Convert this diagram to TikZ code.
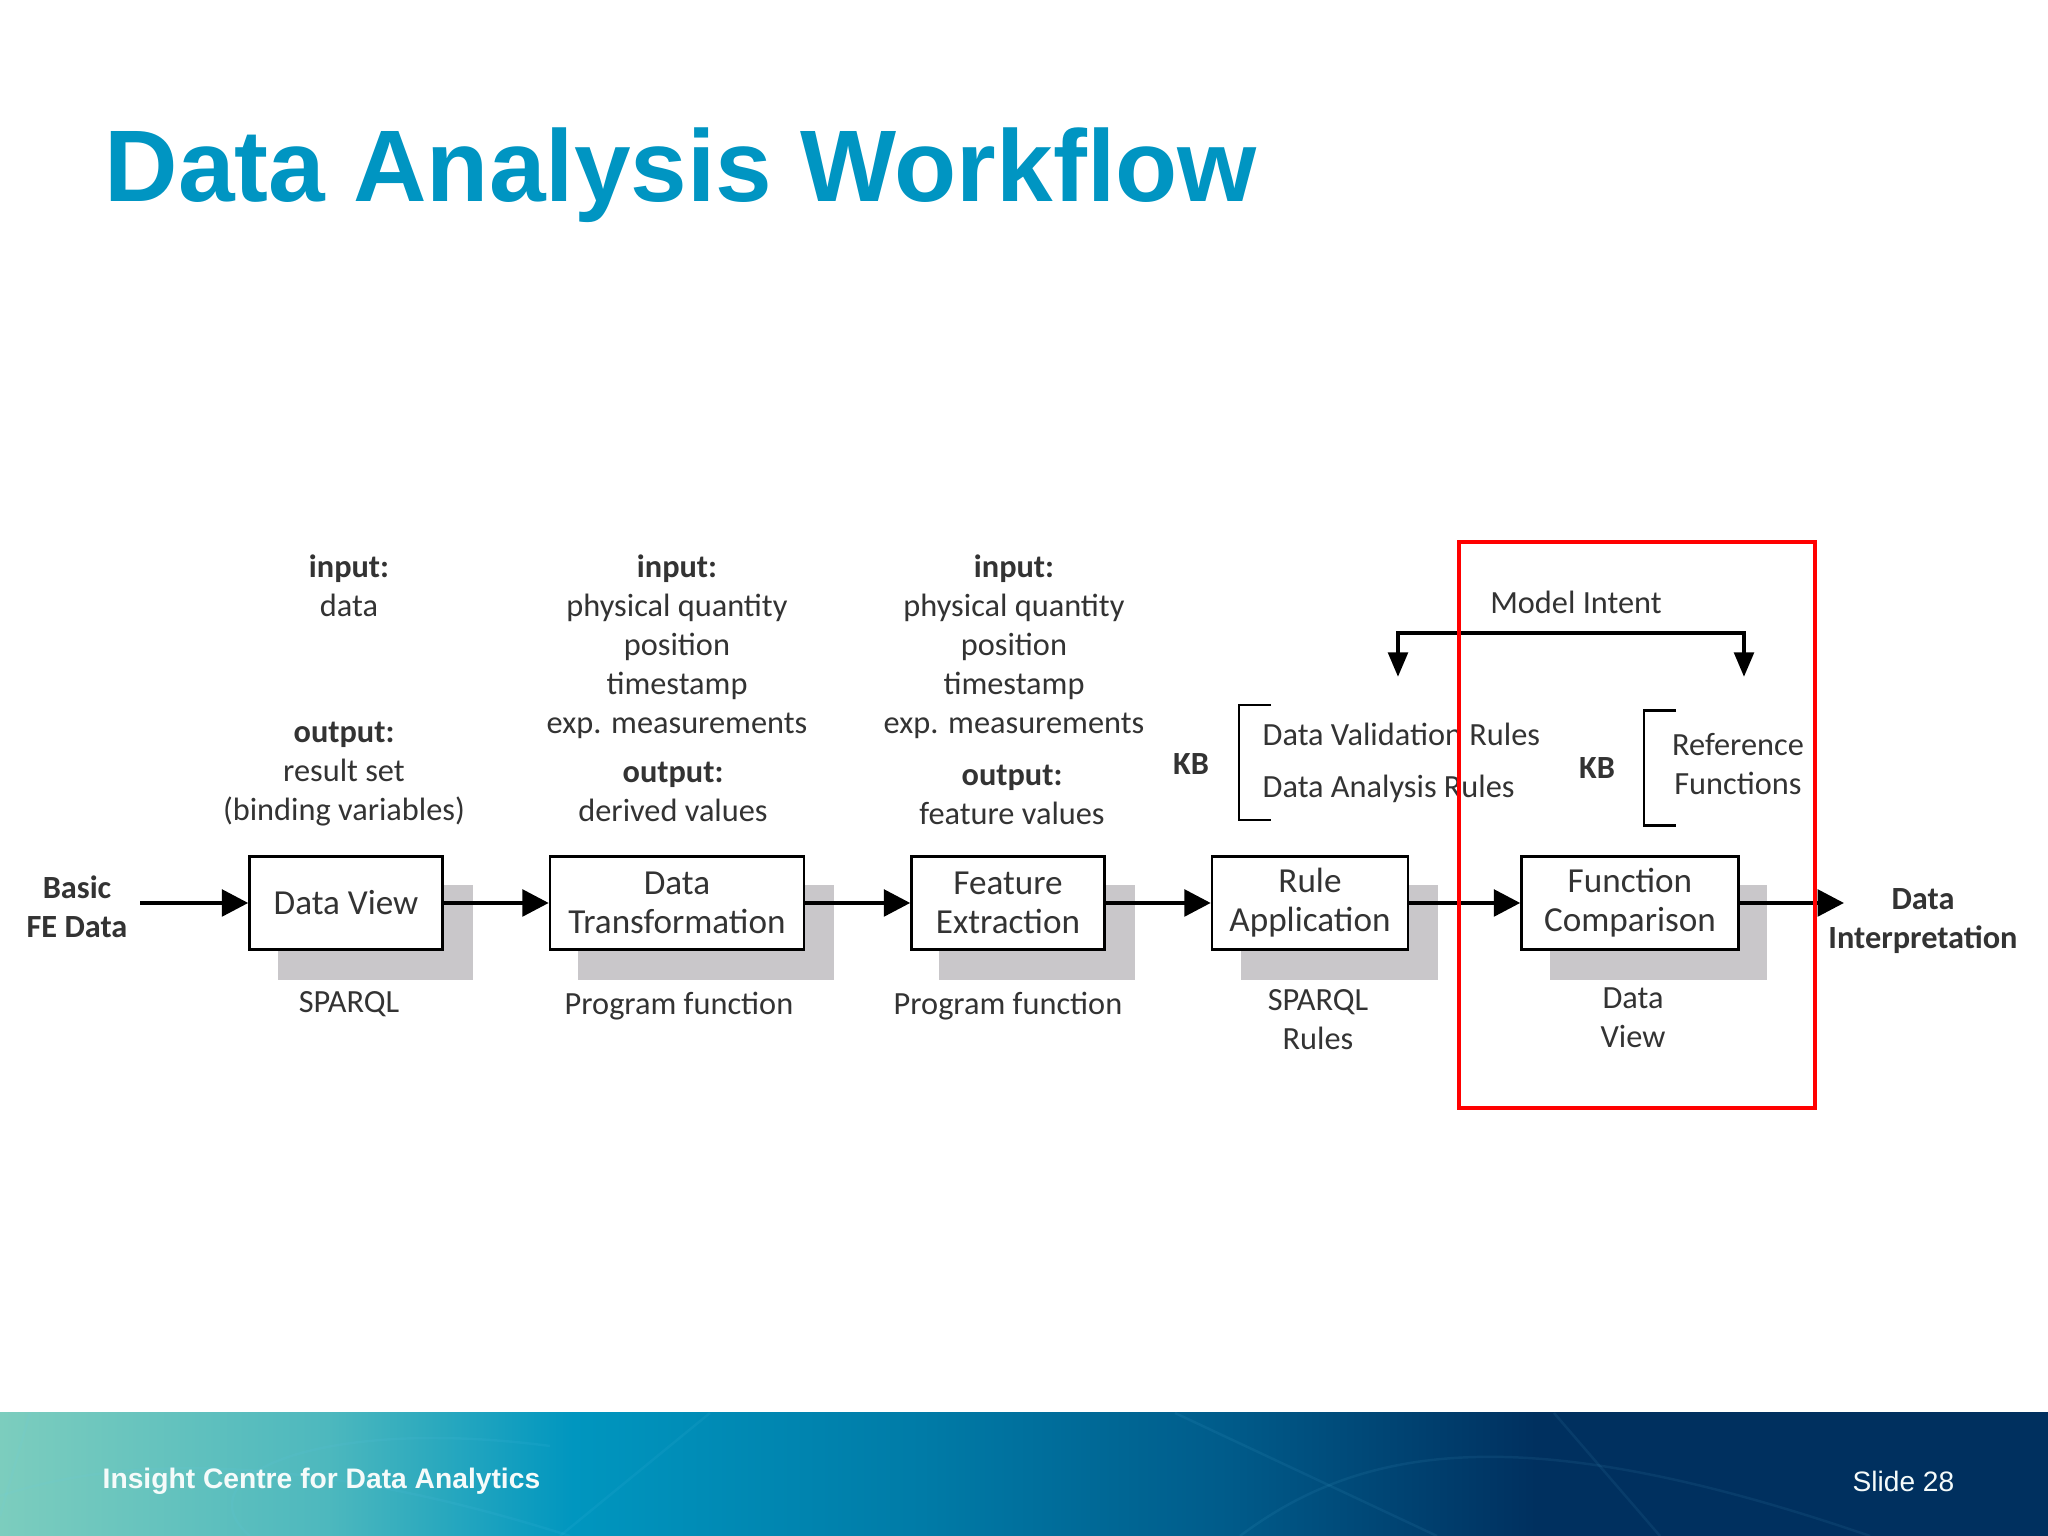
\documentclass[tikz,border=0pt]{standalone}
\usepackage{fontspec}
\setmainfont{Carlito}
\newfontfamily\slidefont{Liberation Sans}
\usetikzlibrary{arrows.meta}
\definecolor{titleblue}{HTML}{0095C2}
\definecolor{shadowgrey}{HTML}{C9C7CA}
\definecolor{textgrey}{HTML}{333333}
\definecolor{teal1}{HTML}{7CCDBE}
\definecolor{teal2}{HTML}{4DB8BE}
\definecolor{teal3}{HTML}{0096BF}
\definecolor{teal4}{HTML}{007BA7}
\definecolor{teal5}{HTML}{005B8A}
\definecolor{teal6}{HTML}{00305F}
\pgfdeclarehorizontalshading{bandshade}{100bp}{
color(0bp)=(teal1);color(25bp)=(teal1);color(33bp)=(teal2);color(39bp)=(teal3);
color(47.5bp)=(teal4);color(55bp)=(teal5);color(62.5bp)=(teal6);color(75bp)=(teal6);color(100bp)=(teal6)}
\tikzset{
  lbl/.style={font=\fontsize{9.2}{11.1}\selectfont,text=textgrey,align=center,inner sep=0pt},
  boldlbl/.style={lbl,font=\fontsize{9.2}{11.1}\selectfont\bfseries},
  stepbox/.style={draw=black,fill=white,line width=0.7pt,align=center,inner sep=0pt,minimum height=0.93cm,
    font=\fontsize{10}{11.1}\selectfont,text=textgrey},
  shadowbox/.style={fill=shadowgrey},
  flow/.style={line width=1.25pt,-{Triangle[length=7.5pt,width=7.5pt]}},
  downflow/.style={line width=1.25pt,-{Triangle[length=7pt,width=5.5pt]}},
  kbbracket/.style={line width=0.6pt},
  band/.style={draw=cyan!60,opacity=0.08,line width=0.7pt}
}
\begin{document}
\begin{tikzpicture}
\useasboundingbox (0,0) rectangle (20.48,15.36);
\fill[white] (0,0) rectangle (20.48,15.36);
\shade[shading=bandshade] (0,0) rectangle (20.48,1.23);
\begin{scope}
\clip (0,0) rectangle (20.48,1.23);
\draw[band] (11.75,1.23) -- (14.37,0);
\draw[band] (15.54,1.23) -- (16.6,0);
\draw[band] (12.4,0) .. controls (13.6,0.9) and (15.2,1.2) .. (18.7,0);
\draw[band] (2.5,0) .. controls (1.8,0.6) and (3.2,1.2) .. (5.5,0.9);
\draw[band] (0.3,1.23) -- (0,0.2);
\draw[band] (7.1,1.23) -- (5.6,0);
\draw[band] (0,0.4) .. controls (1.5,0.9) and (3.5,0.7) .. (5.7,0);
\end{scope}
\node[font=\fontsize{28.96}{30}\selectfont\slidefont\bfseries,text=titleblue,anchor=base west,inner sep=0pt] (title) at (1.04,13.34) {Data Analysis Workflow};
\node[font=\fontsize{8.03}{9}\selectfont\slidefont\bfseries,text=white!92!teal1,anchor=west,inner sep=0pt] (footer) at (1.02,0.55) {Insight Centre for Data Analytics};
\node[font=\fontsize{8}{9}\selectfont\slidefont,text=white!92!teal1,anchor=east,inner sep=0pt] (slidenum) at (19.55,0.55) {Slide 28};

\fill[shadowbox] (2.78,5.56) rectangle (4.73,6.51);
\fill[shadowbox] (5.78,5.56) rectangle (8.34,6.51);
\fill[shadowbox] (9.39,5.56) rectangle (11.35,6.51);
\fill[shadowbox] (12.41,5.56) rectangle (14.38,6.51);
\fill[shadowbox] (15.50,5.56) rectangle (17.67,6.51);

\node[stepbox,minimum width=1.93cm] (dataview) at (3.46,6.33) {Data View};
\node[stepbox,minimum width=2.54cm] (transform) at (6.77,6.33) {Data\\Transformation};
\node[stepbox,minimum width=1.93cm] (feature) at (10.08,6.33) {Feature\\Extraction};
\node[stepbox,minimum width=1.96cm] (rule) at (13.10,6.33) {Rule\\Application};
\node[stepbox,minimum width=2.17cm] (compare) at (16.30,6.33) {Function\\Comparison};

\node[boldlbl,inner xsep=0.12cm] (basic) at (0.77,6.29) {Basic\\FE Data};
\node[boldlbl] (interp) at (19.23,6.15) {Data\\Interpretation};
\coordinate (outtip) at (18.44,6.33);

\draw[flow] (basic.east |- dataview.west) -- (dataview.west);
\draw[flow] (dataview) -- (transform);
\draw[flow] (transform) -- (feature);
\draw[flow] (feature) -- (rule);
\draw[flow] (rule) -- (compare);
\draw[flow] (compare) -- (outtip);

\node[lbl] (input1) at (3.49,9.50) {\textbf{input:}\\data};
\node[lbl] (output1) at (3.44,7.62) {\textbf{output:}\\result set\\(binding variables)};
\node[lbl] (input2) at (6.77,8.89) {\textbf{input:}\\physical quantity\\position\\timestamp\\exp. measurements};
\node[lbl] (output2) at (6.73,7.44) {\textbf{output:}\\derived values};
\node[lbl] (input3) at (10.14,8.89) {\textbf{input:}\\physical quantity\\position\\timestamp\\exp. measurements};
\node[lbl] (output3) at (10.12,7.41) {\textbf{output:}\\feature values};

\node[lbl] (lang1) at (3.49,5.315) {SPARQL};
\node[lbl] (lang2) at (6.79,5.295) {Program function};
\node[lbl] (lang3) at (10.08,5.295) {Program function};
\node[lbl] (lang4) at (13.18,5.16) {SPARQL\\Rules};
\node[lbl] (lang5) at (16.33,5.18) {Data\\View};

\node[boldlbl] (kb1) at (11.91,7.72) {KB};
\node[boldlbl] (kb2) at (15.97,7.68) {KB};
\draw[kbbracket] (12.71,8.31) -- (12.39,8.31) -- (12.39,7.16) -- (12.71,7.16);
\draw[kbbracket] (16.76,8.255) -- (16.44,8.255) -- (16.44,7.105) -- (16.76,7.105);
\node[lbl,anchor=west] (valid) at (12.62,8.02) {Data Validation Rules};
\node[lbl,anchor=west] (analysis) at (12.62,7.475) {Data Analysis Rules};
\node[lbl] (reffunc) at (17.38,7.72) {Reference\\Functions};

\node[lbl] (intent) at (15.76,9.34) {Model Intent};
\coordinate (hub) at (15.76,9.03);
\coordinate (tipleft) at (13.98,8.59);
\coordinate (tipright) at (17.44,8.59);
\draw[downflow] (hub) -| (tipleft);
\draw[downflow] (hub) -| (tipright);

\draw[red,line width=1.2pt] (14.59,4.28) rectangle (18.15,9.94);
\end{tikzpicture}
\end{document}
